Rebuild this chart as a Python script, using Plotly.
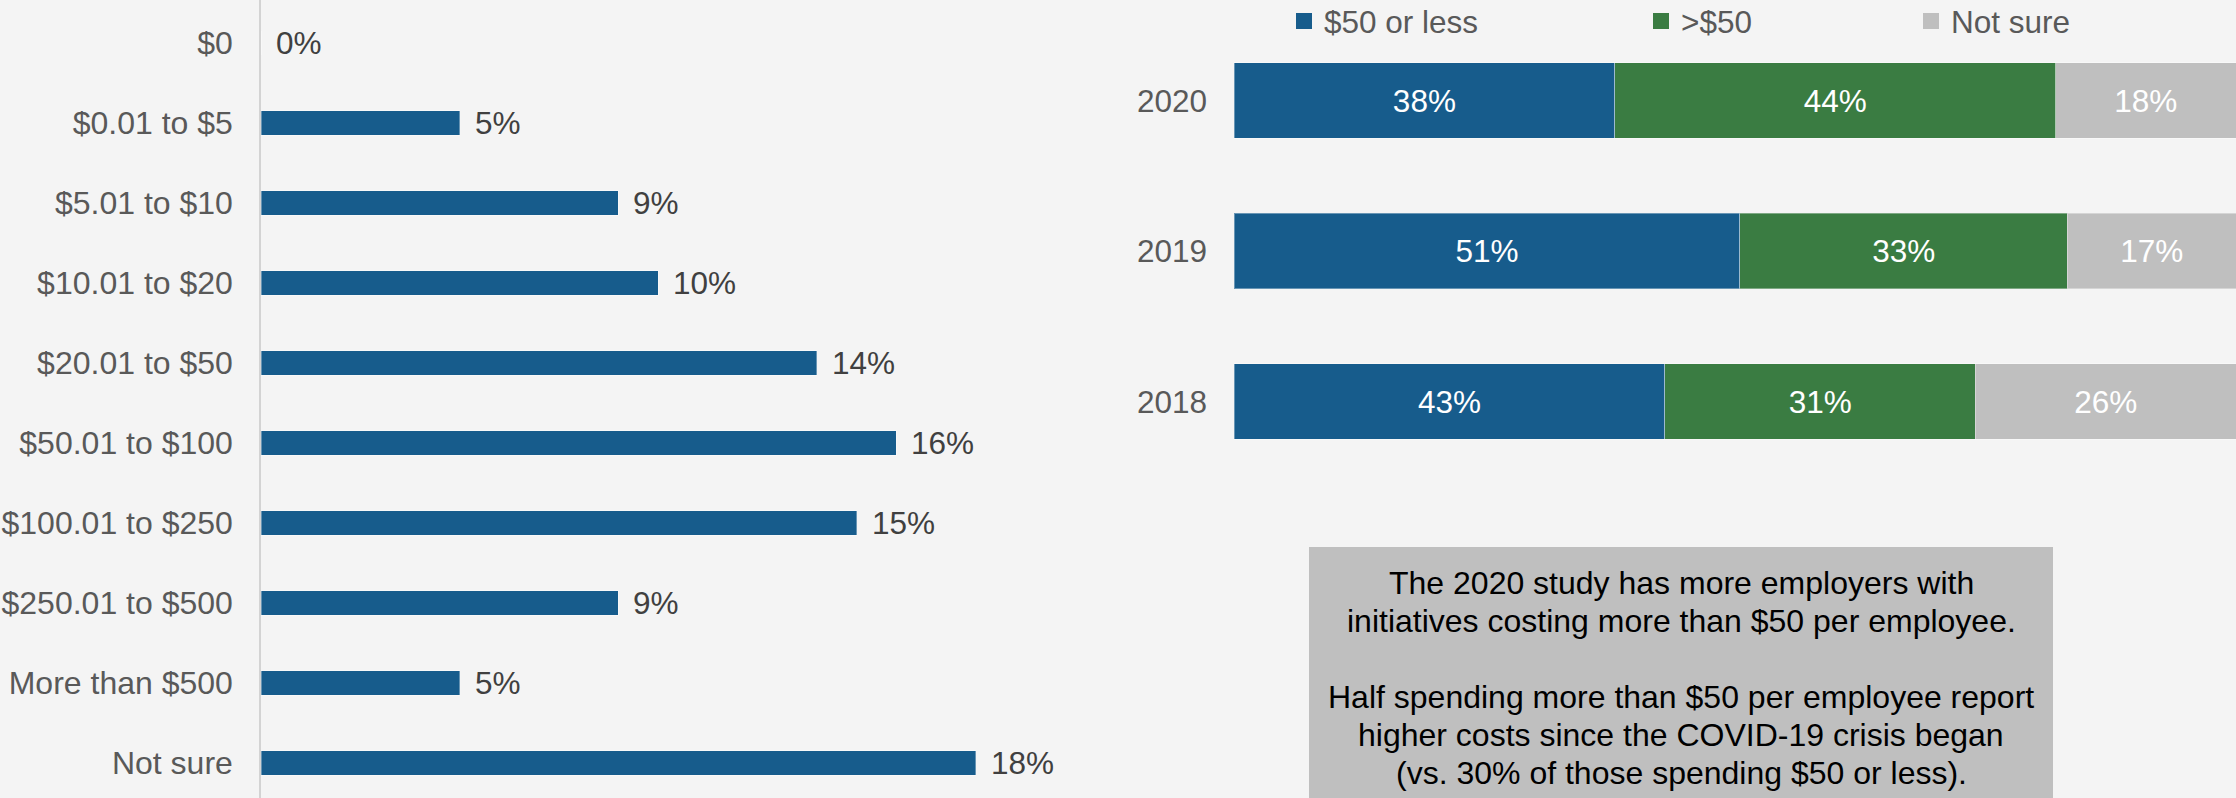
import plotly.graph_objects as go

# Per-employee spending distribution (left panel)
spend_ranges = ["$0", "$0.01 to $5", "$5.01 to $10", "$10.01 to $20", "$20.01 to $50",
                "$50.01 to $100", "$100.01 to $250", "$250.01 to $500",
                "More than $500", "Not sure"]
spend_pct = [0, 5, 9, 10, 14, 16, 15, 9, 5, 18]

# Spending by study year (right panel), shown as 100% stacked bars
years = ["2020", "2019", "2018"]
pct_50_or_less = [38, 51, 43]
pct_over_50 = [44, 33, 31]
pct_not_sure = [18, 17, 26]
series_names = ["$50 or less", ">$50", "Not sure"]

note_lines = [
    "The 2020 study has more employers with",
    "initiatives costing more than $50 per employee.",
    "",
    "Half spending more than $50 per employee report",
    "higher costs since the COVID-19 crisis began",
    "(vs. 30% of those spending $50 or less).",
]

W, H = 2236, 798
FONT = "Liberation Sans, Arial, sans-serif"
BLUE, GREEN, GREY = "#175c8c", "#3a7c42", "#bfbfbf"
BG = "#f4f4f4"
TICK = "#595959"
FS = 31.5

fig = go.Figure()

fig.add_trace(go.Bar(
    x=spend_pct, y=spend_ranges, orientation="h", width=0.31,
    marker=dict(color=BLUE, line=dict(color="rgba(255,255,255,0.35)", width=1)),
    xaxis="x", yaxis="y", showlegend=False, hoverinfo="x+y",
))

# normalise each year's row to 100%, as a 100% stacked bar does
series = [pct_50_or_less, pct_over_50, pct_not_sure]
totals = [sum(vals) for vals in zip(*series)]
colors = [BLUE, GREEN, GREY]
legends = ["legend", "legend2", "legend3"]

for name, vals, col, lg in zip(series_names, series, colors, legends):
    shares = [v / t * 100 for v, t in zip(vals, totals)]
    fig.add_trace(go.Bar(
        x=shares, y=years, orientation="h", width=0.5, name=name,
        marker=dict(color=col, line=dict(color="rgba(255,255,255,0.35)", width=1)),
        text=[f"{v}%" for v in vals], textposition="inside",
        insidetextanchor="middle", textangle=0,
        textfont=dict(color="white", size=FS, family=FONT),
        hovertemplate="%{y}: %{text}<extra>" + name + "</extra>",
        xaxis="x2", yaxis="y2", showlegend=False,
    ))
    # legend key with a larger square swatch
    fig.add_trace(go.Scatter(
        x=[None], y=[None], mode="markers", name=name,
        marker=dict(symbol="square", size=17, color=col),
        xaxis="x2", yaxis="y2", legend=lg, showlegend=True, hoverinfo="skip",
    ))

# value labels beside the left bars
annotations = [
    dict(x=v, y=c, xref="x", yref="y", text=f"{v}%", showarrow=False,
         xanchor="left", yanchor="middle", xshift=13,
         font=dict(size=FS, color="#404040", family=FONT))
    for v, c in zip(spend_pct, spend_ranges)
]

# call-out note, one annotation per line for tight line spacing
line_y = [582.5, 620.5, 658.5, 696.5, 734.5, 772.5]
for txt, yy in zip(note_lines, line_y):
    if not txt:
        continue
    annotations.append(dict(
        x=1681 / W, y=1 - yy / H, xref="paper", yref="paper",
        text=txt, showarrow=False, align="center",
        xanchor="center", yanchor="middle",
        font=dict(size=32, color="black", family=FONT),
    ))

left_step = 80.0
left_first = 43.0
left_top = -left_first / left_step
left_bottom = (H - left_first) / left_step

right_step = 150.5
right_first = 100.5
right_top = -right_first / right_step
right_bottom = (H - right_first) / right_step

legend_common = dict(orientation="h", xanchor="left", yanchor="middle",
                     bgcolor="rgba(0,0,0,0)", itemsizing="trace",
                     font=dict(size=FS, color=TICK, family=FONT))
leg_y = 1 - 21 / H

fig.update_layout(
    width=W, height=H,
    margin=dict(l=0, r=0, t=0, b=0, autoexpand=False),
    paper_bgcolor=BG, plot_bgcolor=BG,
    barmode="stack",
    font=dict(family=FONT, size=FS, color=TICK),
    xaxis=dict(domain=[261 / W, 1055 / W], range=[0, 20], visible=False, fixedrange=True),
    yaxis=dict(domain=[0, 1], type="category", categoryorder="array",
               categoryarray=spend_ranges, range=[left_bottom, left_top],
               showline=True, linecolor="#d3d3d3", linewidth=1.5,
               showgrid=False, zeroline=False, ticks="", ticklabelstandoff=20,
               tickfont=dict(size=32, color=TICK, family=FONT)),
    xaxis2=dict(domain=[1234 / W, 1.0], range=[0, 100], visible=False,
                anchor="y2", fixedrange=True),
    yaxis2=dict(domain=[0, 1], anchor="x2", type="category", categoryorder="array",
                categoryarray=years, range=[right_bottom, right_top],
                showline=False, showgrid=False, zeroline=False, ticks="",
                ticklabelstandoff=26,
                tickfont=dict(size=FS, color=TICK, family=FONT)),
    legend=dict(x=1284 / W, y=leg_y, **legend_common),
    legend2=dict(x=1641 / W, y=leg_y, **legend_common),
    legend3=dict(x=1911 / W, y=leg_y, **legend_common),
    shapes=[dict(type="rect", xref="paper", yref="paper",
                 x0=1309 / W, x1=2053 / W, y0=0, y1=1 - 547 / H,
                 fillcolor=GREY, line=dict(width=0), layer="below")],
    annotations=annotations,
)

fig.write_html("out.html")
